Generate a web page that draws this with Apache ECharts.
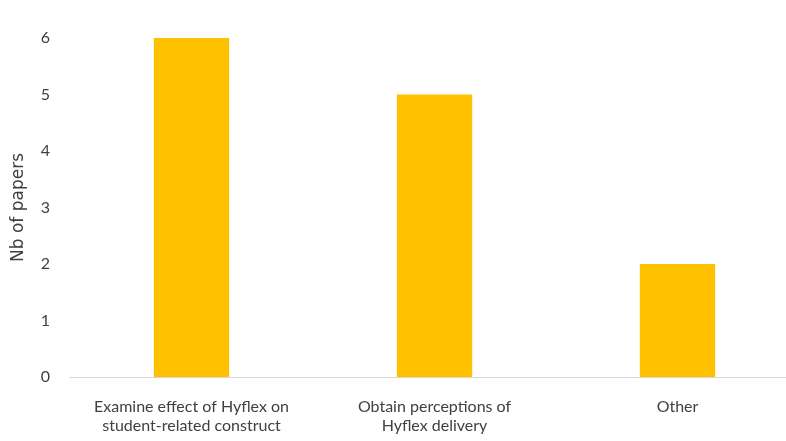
<!DOCTYPE html>
<html>
<head>
<meta charset="utf-8">
<script src="https://cdn.jsdelivr.net/npm/echarts@6/dist/echarts.min.js"></script>
<style>
    html, body { margin: 0; padding: 0; background: #fff; }
    #chart { width: 786px; height: 441px; }
</style>
</head>
<body>
<div id="chart"></div>
<script>
const categories = ['Examine effect of Hyflex on\nstudent-related construct', 'Obtain perceptions of\nHyflex delivery', 'Other'];
const papers = [6, 5, 2];
const yTicks = [0, 6, 1]; // min, max, interval

let chart = echarts.init(document.getElementById('chart'));
const textFont = 'Lato';
let option = {
    animation: false,
    grid: {
        left: 70,
        top: 38,
        width: 729,
        height: 339,
        outerBoundsMode: 'none'
    },
    xAxis: {
        type: 'category',
        data: categories,
        axisTick: { show: false },
        axisLine: {
            lineStyle: { color: '#d9d9d9', width: 1 }
        },
        axisLabel: {
            color: '#404040',
            fontFamily: textFont,
            fontSize: 16,
            lineHeight: 19,
            margin: 20,
            interval: 0
        }
    },
    yAxis: {
        type: 'value',
        min: yTicks[0],
        max: yTicks[1],
        interval: yTicks[2],
        name: 'Nb of papers',
        nameLocation: 'middle',
        nameGap: 43,
        nameTextStyle: {
            color: '#404040',
            fontFamily: 'DejaVu Sans',
            fontSize: 17
        },
        splitLine: { show: false },
        axisLine: { show: false },
        axisTick: { show: false },
        axisLabel: {
            color: '#404040',
            fontFamily: textFont,
            fontSize: 16,
            margin: 20
        }
    },
    series: [
        {
            type: 'bar',
            data: papers,
            barWidth: '31%',
            itemStyle: { color: '#FFC000' }
        }
    ]
};
chart.setOption(option);
</script>
</body>
</html>
